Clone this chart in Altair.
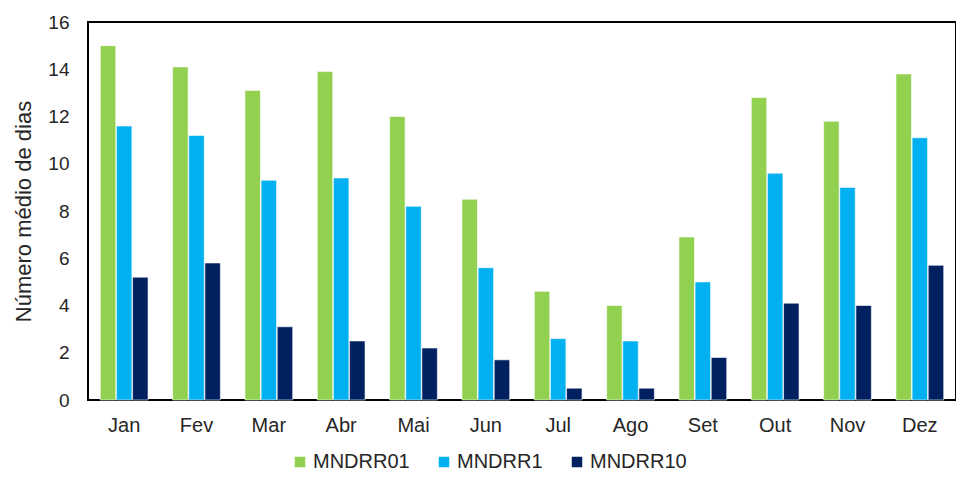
import altair as alt
import pandas as pd

months = ["Jan", "Fev", "Mar", "Abr", "Mai", "Jun", "Jul", "Ago", "Set", "Out", "Nov", "Dez"]
series = ["MNDRR01", "MNDRR1", "MNDRR10"]
mndrr01 = [15.0, 14.1, 13.1, 13.9, 12.0, 8.5, 4.6, 4.0, 6.9, 12.8, 11.8, 13.8]
mndrr1 = [11.6, 11.2, 9.3, 9.4, 8.2, 5.6, 2.6, 2.5, 5.0, 9.6, 9.0, 11.1]
mndrr10 = [5.2, 5.8, 3.1, 2.5, 2.2, 1.7, 0.5, 0.5, 1.8, 4.1, 4.0, 5.7]
colors = ["#92D050", "#00B0F0", "#002060"]
y_ticks = [0, 2, 4, 6, 8, 10, 12, 14, 16]

rows = []
for name, vals in zip(series, [mndrr01, mndrr1, mndrr10]):
    for m, v in zip(months, vals):
        rows.append({"Mês": m, "Série": name, "Valor": v})
df = pd.DataFrame(rows)

font = "Liberation Sans"

chart = alt.Chart(df).mark_bar(stroke="white", strokeWidth=0.6).encode(
    x=alt.X("Mês:N", sort=months, title=None,
            scale=alt.Scale(paddingInner=0.34, paddingOuter=0.17),
            axis=alt.Axis(labelAngle=0, labelFontSize=20, labelColor="#262626",
                          labelFont=font, ticks=False, domain=False, labelPadding=15)),
    xOffset=alt.XOffset("Série:N", sort=series, scale=alt.Scale(paddingInner=0.04)),
    y=alt.Y("Valor:Q", title="Número médio de dias",
            scale=alt.Scale(domain=[0, 16], nice=False),
            axis=alt.Axis(values=y_ticks, grid=False, ticks=False, domain=False,
                          labelFontSize=19, labelColor="#262626", labelFont=font,
                          labelPadding=19, titleFontSize=22, titleFontWeight="normal",
                          titleColor="#262626", titleFont=font, titlePadding=12)),
    color=alt.Color("Série:N", sort=series,
                    scale=alt.Scale(domain=series, range=colors),
                    legend=alt.Legend(title=None, orient="none", direction="horizontal",
                                      legendX=202, legendY=430,
                                      symbolType="square", symbolSize=110,
                                      symbolStrokeWidth=0, labelFontSize=20,
                                      labelFont=font, labelColor="#262626",
                                      labelOffset=3, columnPadding=24, padding=0)),
).properties(
    width=868, height=378,
    autosize=alt.AutoSizeParams(type="none"),
    padding={"left": 80, "top": 14, "right": 0, "bottom": 74},
).configure_view(
    stroke="black", strokeWidth=2
)

chart.save("out.html", embed_options={"renderer": "svg", "actions": False})
